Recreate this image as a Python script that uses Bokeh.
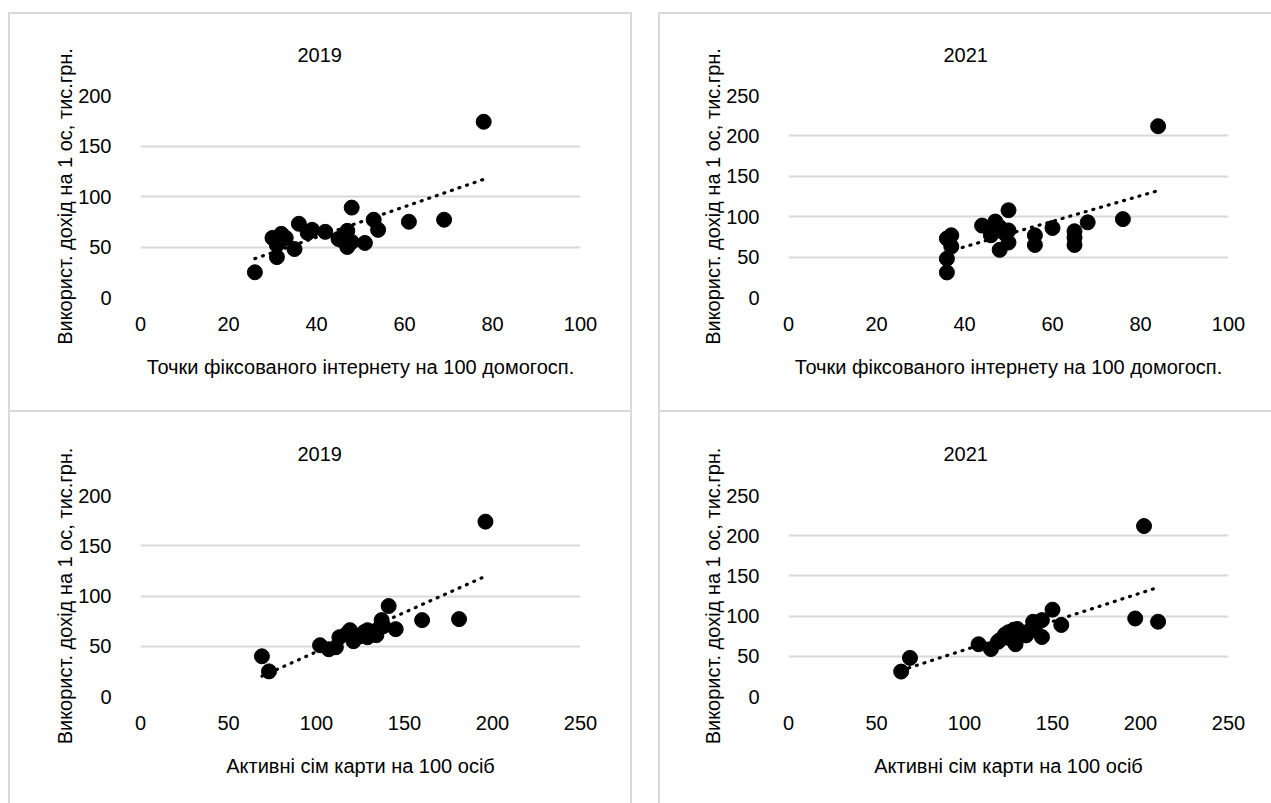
import numpy as np
from bokeh.plotting import figure
from bokeh.layouts import column, row
from bokeh.models import Spacer, SingleIntervalTicker
from bokeh.embed import file_html
from bokeh.resources import INLINE

# ---- data ----
# Panel 1: 2019, fixed internet points per 100 households vs disposable income
inet_2019_x = [26, 31, 31, 30, 32, 33, 32, 35, 36, 38, 39, 42, 45, 46, 47, 47, 48, 48, 51, 53, 54, 61, 69, 78]
inet_2019_y = [25, 40, 52, 59, 63, 59, 57, 48, 73, 64, 67, 65, 58, 56, 66, 50, 55, 89, 54, 77, 67, 75, 77, 174]

# Panel 2: 2021, fixed internet
inet_2021_x = [36, 36, 37, 36, 37, 44, 46, 47, 47, 48, 48, 49, 50, 50, 50, 56, 56, 60, 65, 65, 65, 68, 76, 84]
inet_2021_y = [31, 48, 63, 73, 77, 89, 77, 94, 85, 59, 87, 80, 108, 83, 68, 77, 65, 86, 82, 74, 65, 93, 97, 212]

# Panel 3: 2019, active SIM cards per 100 persons
sim_2019_x = [69, 73, 102, 107, 111, 113, 117, 119, 120, 121, 125, 127, 129, 129, 131, 134, 135, 137, 138, 141, 145, 160, 181, 196]
sim_2019_y = [40, 25, 51, 47, 49, 59, 62, 66, 61, 55, 60, 64, 66, 59, 63, 61, 67, 76, 70, 90, 67, 76, 77, 174]

# Panel 4: 2021, active SIM cards
sim_2021_x = [64, 69, 108, 115, 119, 120, 123, 125, 126, 128, 129, 130, 132, 135, 137, 139, 140, 144, 144, 150, 155, 197, 202, 210]
sim_2021_y = [31, 48, 65, 59, 68, 70, 77, 80, 72, 83, 65, 84, 78, 76, 82, 93, 86, 95, 74, 108, 89, 97, 212, 93]

titles = ["2019", "2021", "2019", "2021"]
xlabel_inet = "Точки фіксованого інтернету на 100 домогосп."
xlabel_sim = "Активні сім карти на 100 осіб"
ylabel = "Використ. дохід на 1 ос, тис.грн."

FONT = "Liberation Sans"
FS = "20px"
BORDER = "#d9d9d9"


def make_panel(xs, ys, title, xlabel, xmax, xstep, ymax, width, height,
               mbl, mbr, mbt, mbb, title_offset, title_standoff, borders):
    p = figure(width=width, height=height, x_range=(0, xmax), y_range=(0, ymax),
               output_backend="svg", toolbar_location=None,
               min_border_left=mbl, min_border_right=mbr,
               min_border_top=mbt, min_border_bottom=mbb)
    p.outline_line_color = None
    p.background_fill_color = "white"
    p.border_fill_color = "white"
    p.xgrid.visible = False
    p.ygrid.grid_line_color = BORDER
    p.ygrid.grid_line_width = 2

    p.title.text = title
    p.title.align = "left"
    p.title.offset = title_offset
    p.title.vertical_align = "top"
    p.title.text_font = FONT
    p.title.text_font_size = FS
    p.title.text_font_style = "normal"
    p.title.text_color = "#000000"
    p.title.standoff = title_standoff

    p.xaxis.ticker = SingleIntervalTicker(interval=xstep)
    p.yaxis.ticker = SingleIntervalTicker(interval=50)
    for ax in (p.xaxis[0], p.yaxis[0]):
        ax.axis_line_color = None
        ax.major_tick_line_color = None
        ax.minor_tick_line_color = None
        ax.major_tick_out = 0
        ax.major_tick_in = 0
        ax.major_label_text_font = FONT
        ax.major_label_text_font_size = FS
        ax.major_label_text_color = "#000000"
        ax.axis_label_text_font = FONT
        ax.axis_label_text_font_size = FS
        ax.axis_label_text_font_style = "normal"
        ax.axis_label_text_color = "#000000"
    p.xaxis.axis_label = xlabel
    p.yaxis.axis_label = ylabel
    p.xaxis.major_label_standoff = 15
    p.xaxis.axis_label_standoff = 22
    p.yaxis.major_label_standoff = 25
    p.yaxis.axis_label_standoff = -1

    # linear trend line from the data
    xa = np.array(xs, dtype=float)
    ya = np.array(ys, dtype=float)
    k, b = np.polyfit(xa, ya, 1)
    tx = [xa.min(), xa.max()]
    ty = [k * tx[0] + b, k * tx[1] + b]
    p.line(tx, ty, line_color="black", line_width=3.2, line_dash="1 7", line_cap="round")

    p.scatter(xs, ys, size=15, marker="circle", fill_color="black", line_color="black")

    st = {"background-color": "white"}
    for side in ("left", "right", "top", "bottom"):
        if side in borders:
            st["border-" + side] = "2px solid " + BORDER
    p.styles = st
    return p


p1 = make_panel(inet_2019_x, inet_2019_y, titles[0], xlabel_inet, 100, 20, 200,
                624, 400, 130, 54, 81, 117, 157, 64, ("left", "right", "top", "bottom"))
p2 = make_panel(inet_2021_x, inet_2021_y, titles[1], xlabel_inet, 100, 20, 250,
                613, 400, 128, 45, 81, 117, 155, 64, ("left", "top", "bottom"))
p3 = make_panel(sim_2019_x, sim_2019_y, titles[2], xlabel_sim, 250, 50, 200,
                624, 391, 130, 54, 83, 107, 157, 66, ("left", "right"))
p4 = make_panel(sim_2021_x, sim_2021_y, titles[3], xlabel_sim, 250, 50, 250,
                613, 391, 128, 45, 83, 107, 155, 66, ("left",))

layout = column(Spacer(height=12),
                row(Spacer(width=8), p1, Spacer(width=26), p2),
                row(Spacer(width=8), p3, Spacer(width=26), p4))

open("out.html", "w").write(file_html(layout, INLINE))
